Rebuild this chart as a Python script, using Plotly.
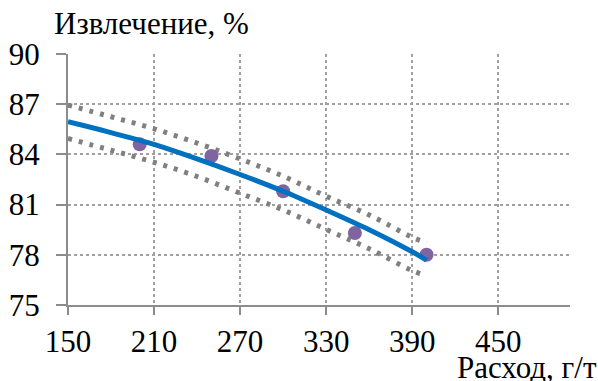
import plotly.graph_objects as go

# Experimental points
exp_x = [200, 250, 300, 350, 400]
exp_y = [84.6, 83.9, 81.8, 79.3, 78.0]

# Regression curve
fit_x = [150, 180, 210, 240, 270, 300, 330, 360, 390, 400]
fit_y = [85.95, 85.3, 84.6, 83.73, 82.8, 81.8, 80.68, 79.5, 78.18, 77.68]

# Confidence band
band_upper = [86.95, 86.25, 85.53, 84.68, 83.73, 82.7, 81.5, 80.38, 79.05, 78.72]
band_lower = [84.95, 84.25, 83.53, 82.68, 81.68, 80.68, 79.52, 78.36, 77.06, 76.75]

x_ticks = [150, 210, 270, 330, 390, 450]
y_ticks = [75, 78, 81, 84, 87, 90]

FONT = "Liberation Serif"
GRID = "#a0a0a0"
AXIS = "#8c8c8c"
FS = 31

fig = go.Figure()

for band in (band_upper, band_lower):
    fig.add_trace(go.Scatter(
        x=fit_x, y=band, mode="lines",
        line=dict(color="#808080", width=5, dash="4px,7px", shape="spline"),
        hoverinfo="skip", showlegend=False))

fig.add_trace(go.Scatter(
    x=exp_x, y=exp_y, mode="markers",
    marker=dict(color="#8064A2", size=14),
    showlegend=False))

fig.add_trace(go.Scatter(
    x=fit_x, y=fit_y, mode="lines",
    line=dict(color="#0070C0", width=5, shape="spline"),
    showlegend=False))

fig.update_layout(
    width=598, height=381,
    margin=dict(l=68, r=28, t=53.5, b=76),
    paper_bgcolor="white", plot_bgcolor="white",
    font=dict(family=FONT, size=FS, color="black"),
    showlegend=False,
)

fig.update_xaxes(
    range=[150, 500], tickvals=x_ticks, ticktext=[str(v) for v in x_ticks],
    tickfont=dict(family=FONT, size=FS, color="black"),
    showgrid=True, gridcolor=GRID, griddash="dot", gridwidth=1.5,
    showline=True, linecolor=AXIS, linewidth=2,
    ticks="outside", ticklen=8, tickcolor=AXIS, tickwidth=2,
    ticklabelstandoff=0, zeroline=False, automargin=False,
)
fig.update_yaxes(
    range=[75, 90], tickvals=y_ticks, ticktext=[str(v) for v in y_ticks],
    tickfont=dict(family=FONT, size=FS, color="black"),
    showgrid=True, gridcolor=GRID, griddash="dot", gridwidth=1.5,
    showline=True, linecolor=AXIS, linewidth=2,
    ticks="outside", ticklen=10, tickcolor=AXIS, tickwidth=2,
    ticklabelstandoff=10, zeroline=False, automargin=False,
)

fig.add_annotation(
    text="Извлечение, %", xref="paper", yref="paper",
    x=-16/502, y=1 + 11/251.5, xanchor="left", yanchor="bottom",
    showarrow=False, font=dict(family=FONT, size=FS, color="black"))
fig.add_annotation(
    text="Расход, г/т", xref="paper", yref="paper",
    x=1 + 29/502, y=-82/251.5, xanchor="right", yanchor="bottom",
    showarrow=False, font=dict(family=FONT, size=FS, color="black"))

fig.write_html("out.html")
